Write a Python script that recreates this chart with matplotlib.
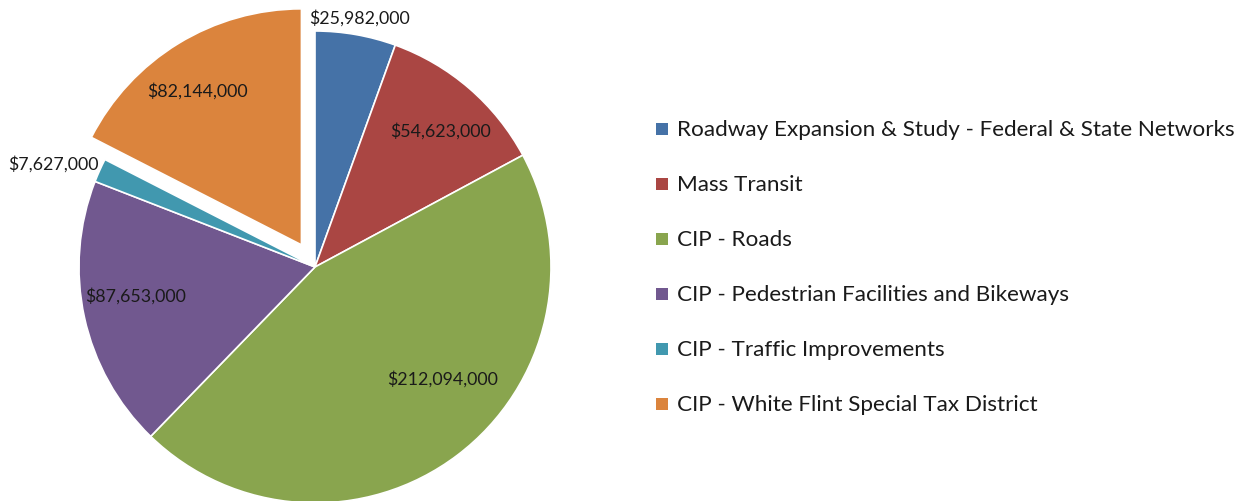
import matplotlib

matplotlib.use("Agg")

import matplotlib.pyplot as plt
from matplotlib.patches import Rectangle

# data
categories = [
    "Roadway Expansion & Study - Federal & State Networks",
    "Mass Transit",
    "CIP - Roads",
    "CIP - Pedestrian Facilities and Bikeways",
    "CIP - Traffic Improvements",
    "CIP - White Flint Special Tax District",
]
amounts = [25982000, 54623000, 212094000, 87653000, 7627000, 82144000]
value_labels = ["$25,982,000", "$54,623,000", "$212,094,000",
                "$87,653,000", "$7,627,000", "$82,144,000"]

colors = ["#4572A7", "#AA4643", "#89A54E", "#71588F", "#4198AF", "#DB843D"]
explode = [0, 0, 0, 0, 0, 0.11]
# label anchor points, in pie radii from the centre
label_pos = [(0.19, 1.06), (0.53, 0.58), (0.54, -0.47),
             (-0.76, -0.12), (-1.11, 0.44), (-0.50, 0.75)]

plt.rcParams["font.family"] = ["Lato", "DejaVu Sans"]

W, H = 1247, 502
cx, cy, R = 315, 268, 236

fig = plt.figure(figsize=(W / 100, H / 100), dpi=100)
ax = fig.add_axes([0, 0, 1, 1])

wedges, _ = ax.pie(
    amounts,
    colors=colors,
    explode=explode,
    startangle=90,
    counterclock=False,
    radius=1.0,
    wedgeprops=dict(edgecolor="white", linewidth=1.2),
)
ax.set_aspect("auto")
ax.set_xlim(-cx / R, (W - cx) / R)
ax.set_ylim(-(H - cy) / R, cy / R)
ax.axis("off")

for (x, y), txt in zip(label_pos, value_labels):
    ax.text(x, y, txt, ha="center", va="center", fontsize=12.8, color="#1a1a1a")

# legend
leg_x = (662 - cx) / R
txt_x = (677 - cx) / R
box = 12 / R
for i, (name, c) in enumerate(zip(categories, colors)):
    ypix = 130 + 55 * i
    y = (cy - ypix) / R
    ax.add_patch(Rectangle((leg_x - box / 2, y - box / 2), box, box,
                           facecolor=c, edgecolor="none"))
    ax.text(txt_x, y, name, ha="left", va="center", fontsize=16.2, color="#1a1a1a")

fig.savefig("out.png", dpi=100)
